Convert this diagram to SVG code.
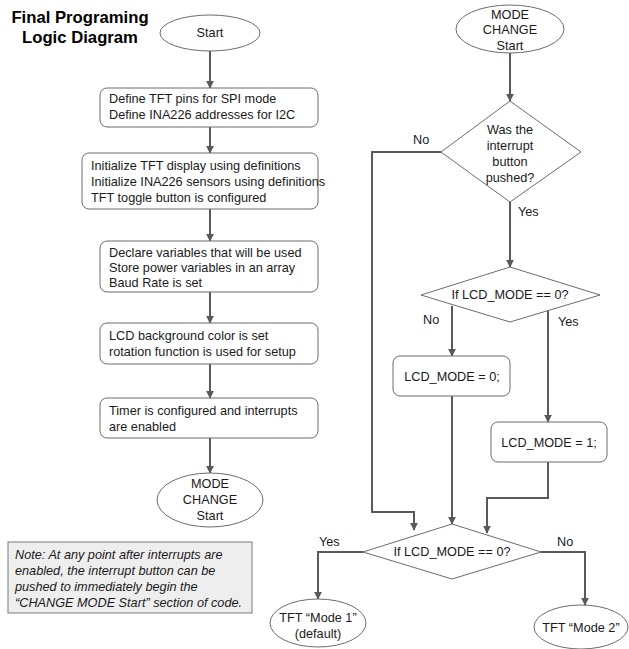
<svg xmlns="http://www.w3.org/2000/svg" width="629" height="649" viewBox="0 0 629 649">
<defs>
<marker id="ah" viewBox="0 0 10 10" refX="9" refY="5" markerWidth="4" markerHeight="4" markerUnits="strokeWidth" orient="auto">
<path d="M0,0 L10,5 L0,10 z" fill="#595959"/>
</marker>
<style>
.n{fill:#fff;stroke:#6b6b6b;stroke-width:1}
.t{font-family:"Liberation Sans",Arial,sans-serif;font-size:12.7px;fill:#1a1a1a}
.c{text-anchor:middle}
.e{fill:none;stroke:#595959;stroke-width:2;marker-end:url(#ah)}
.l{fill:none;stroke:#595959;stroke-width:2}
.note{fill:#eeeeee;stroke:#7a7a7a;stroke-width:1}
.i{font-style:italic}
.title{font-family:"Liberation Sans",Arial,sans-serif;font-size:16.7px;font-weight:bold;fill:#000}
</style>
</defs>
<rect width="629" height="649" fill="#fff"/>
<g id="title">
<text class="title c" x="80" y="23">Final Programing</text>
<text class="title c" x="80" y="43">Logic Diagram</text>
</g>
<g id="connectors">
<line class="e" x1="210" y1="51" x2="210" y2="88"/>
<line class="e" x1="210" y1="127" x2="210" y2="153"/>
<line class="e" x1="210" y1="209" x2="210" y2="241"/>
<line class="e" x1="210" y1="292" x2="210" y2="323"/>
<line class="e" x1="210" y1="364" x2="210" y2="398"/>
<line class="e" x1="210" y1="438" x2="210" y2="473"/>
<line class="e" x1="510" y1="53" x2="510" y2="101"/>
<polyline class="e" points="441,152 372,152 372,512 414,512 414,530"/>
<line class="e" x1="510" y1="202" x2="510" y2="267"/>
<line class="e" x1="452" y1="306" x2="452" y2="356"/>
<line class="e" x1="548" y1="311" x2="548" y2="422"/>
<line class="e" x1="452" y1="396" x2="452" y2="524"/>
<polyline class="e" points="548,462 548,498 487,498 487,533"/>
<polyline class="e" points="363,552 318,552 318,599"/>
<polyline class="e" points="541,552 585,552 585,605"/>
<text class="t" x="413" y="144">No</text>
<text class="t" x="518" y="216">Yes</text>
<text class="t" x="423" y="324">No</text>
<text class="t" x="558" y="326">Yes</text>
<text class="t" x="319" y="546">Yes</text>
<text class="t" x="557" y="546">No</text>
</g>
<g id="start">
<ellipse class="n" cx="210" cy="33" rx="50" ry="18"/>
<text class="t c" x="210" y="37">Start</text>
</g>
<g id="define">
<rect class="n" x="100" y="88" width="218" height="39" rx="7"/>
<text class="t" x="109" y="103">Define TFT pins for SPI mode</text>
<text class="t" x="109" y="119">Define INA226 addresses for I2C</text>
</g>
<g id="init">
<rect class="n" x="82" y="153" width="236" height="56" rx="7"/>
<text class="t" x="91" y="170">Initialize TFT display using definitions</text>
<text class="t" x="91" y="186">Initialize INA226 sensors using definitions</text>
<text class="t" x="91" y="202">TFT toggle button is configured</text>
</g>
<g id="declare">
<rect class="n" x="100" y="241" width="218" height="51" rx="7"/>
<text class="t" x="109" y="257">Declare variables that will be used</text>
<text class="t" x="109" y="272">Store power variables in an array</text>
<text class="t" x="109" y="287">Baud Rate is set</text>
</g>
<g id="lcd">
<rect class="n" x="100" y="323" width="218" height="41" rx="7"/>
<text class="t" x="109" y="340">LCD background color is set</text>
<text class="t" x="109" y="356">rotation function is used for setup</text>
</g>
<g id="timer">
<rect class="n" x="100" y="398" width="218" height="40" rx="7"/>
<text class="t" x="109" y="415">Timer is configured and interrupts</text>
<text class="t" x="109" y="431">are enabled</text>
</g>
<g id="modechange1">
<ellipse class="n" cx="210" cy="500" rx="53" ry="27"/>
<text class="t c" x="210" y="488">MODE</text>
<text class="t c" x="210" y="504">CHANGE</text>
<text class="t c" x="210" y="520">Start</text>
</g>
<g id="note">
<rect class="note" x="8" y="542" width="244" height="71"/>
<text class="t i" x="15" y="559">Note: At any point after interrupts are</text>
<text class="t i" x="15" y="575">enabled, the interrupt button can be</text>
<text class="t i" x="15" y="591">pushed to immediately begin the</text>
<text class="t i" x="15" y="607">“CHANGE MODE Start” section of code.</text>
</g>
<g id="modechange2">
<ellipse class="n" cx="510" cy="29" rx="54" ry="24"/>
<text class="t c" x="510" y="19">MODE</text>
<text class="t c" x="510" y="34">CHANGE</text>
<text class="t c" x="510" y="50">Start</text>
</g>
<g id="interrupt">
<polygon class="n" points="510,101 581,152 510,202 441,152"/>
<text class="t c" x="510" y="134">Was the</text>
<text class="t c" x="510" y="150">interrupt</text>
<text class="t c" x="510" y="166">button</text>
<text class="t c" x="510" y="182">pushed?</text>
</g>
<g id="ifmode1">
<polygon class="n" points="510,267 600,295 510,322 421,295"/>
<text class="t c" x="510" y="299">If LCD_MODE == 0?</text>
</g>
<g id="set0">
<rect class="n" x="393" y="356" width="117" height="40" rx="7"/>
<text class="t c" x="452" y="381">LCD_MODE = 0;</text>
</g>
<g id="set1">
<rect class="n" x="491" y="422" width="116" height="40" rx="7"/>
<text class="t c" x="549" y="447">LCD_MODE = 1;</text>
</g>
<g id="ifmode2">
<polygon class="n" points="452,524 541,552 452,579 363,552"/>
<text class="t c" x="452" y="556">If LCD_MODE == 0?</text>
</g>
<g id="mode1">
<ellipse class="n" cx="318" cy="623" rx="48" ry="24"/>
<text class="t c" x="318" y="622">TFT “Mode 1”</text>
<text class="t c" x="318" y="638">(default)</text>
</g>
<g id="mode2">
<ellipse class="n" cx="581" cy="627" rx="47" ry="22"/>
<text class="t c" x="581" y="632">TFT “Mode 2”</text>
</g>
</svg>
